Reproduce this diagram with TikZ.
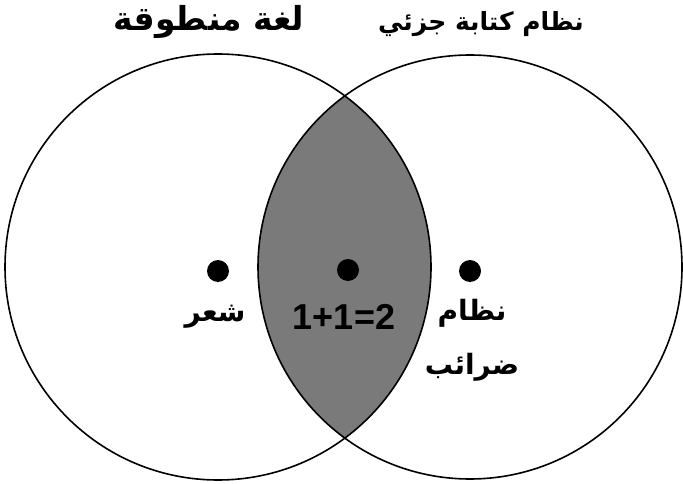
\documentclass[tikz,border=0pt]{standalone}
\usepackage{fontspec}
\setmainfont{Liberation Sans}
\newfontfamily\arabicfont[Script=Arabic]{DejaVu Sans}
\TeXXeTstate=1

\begin{document}
\begin{tikzpicture}[x=1pt,y=-1pt,
  ring/.style={line width=1.6pt},
  dot/.style={circle,fill=black,minimum size=22pt,inner sep=0pt},
  lbl/.style={font=\arabicfont\bfseries\fontsize{28}{32}\selectfont,inner sep=0pt},
  ttl/.style={font=\arabicfont\bfseries\fontsize{#1}{30}\selectfont,inner sep=0pt}]
\useasboundingbox (0,0) rectangle (683,484);
\coordinate (cl) at (218,267);
\coordinate (cr) at (470,267);
% shared part
\begin{scope}
\clip (cl) circle[radius=213pt];
\fill[black!52] (cr) circle[radius=212pt];
\end{scope}
\draw[ring] (cl) circle[radius=213pt];
\draw[ring] (cr) circle[radius=212pt];
% titles
\node[ttl=33] (spoken) at (209,22) {\beginR لغة منطوقة\endR};
\node[ttl=25] (writing) at (481,24) {\beginR نظام كتابة جزئي\endR};
% points
\node[dot] (pl) at (218,271) {};
\node[dot] (pm) at (348,270) {};
\node[dot] (pr) at (470,271) {};
\node[lbl] (poem) at (215,317) {\beginR شعر\endR};
\node[font=\bfseries\fontsize{36}{40}\selectfont,inner sep=0pt] (sum) at (344,317) {1+1=2};
\node[lbl] (tax) at (472,313) {\beginR نظام\endR};
\node[lbl] (taxes) at (472,367) {\beginR ضرائب\endR};
\end{tikzpicture}
\end{document}
